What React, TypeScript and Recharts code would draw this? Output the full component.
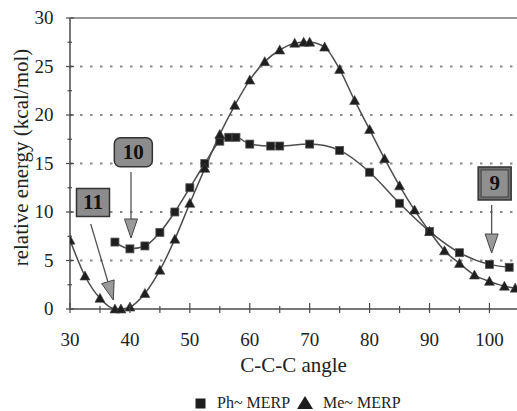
import React from 'react';
import { LineChart, Line, XAxis, YAxis, ReferenceLine, ReferenceDot, Legend } from 'recharts';

// ---- data ----
const phAngles = [37.5, 40, 42.5, 45, 47.5, 50, 52.5, 55, 56.5, 57.7, 60, 63.5, 65, 70, 75, 80, 85, 90, 95, 100, 103.3];
const phEnergy = [6.9, 6.2, 6.5, 7.9, 10.0, 12.5, 15.0, 17.3, 17.7, 17.7, 17.0, 16.8, 16.8, 17.0, 16.35, 14.1, 10.9, 8.0, 5.8, 4.6, 4.3];

const meAngles = [30, 32.5, 35, 37.5, 38.5, 40, 42.5, 45, 47.5, 50, 52.5, 55, 57.5, 60, 62.5, 65, 67.5, 69, 70, 72.5, 75, 77.5, 80, 82.5, 85, 87.5, 90, 92.5, 95, 97.5, 100, 102.5, 104.3];
const meEnergy = [7.1, 3.4, 1.1, 0, 0, 0.2, 1.6, 4.0, 7.2, 10.9, 14.5, 18.0, 21.0, 23.6, 25.5, 26.7, 27.4, 27.5, 27.5, 27.0, 24.7, 21.5, 18.5, 15.5, 12.7, 10.2, 8.0, 6.0, 4.7, 3.5, 2.85, 2.35, 2.15];

const xTicks = [30, 35, 40, 45, 50, 55, 60, 65, 70, 75, 80, 85, 90, 95, 100];
const yTicks = [0, 2.5, 5, 7.5, 10, 12.5, 15, 17.5, 20, 22.5, 25, 27.5, 30];
const gridValues = [5, 10, 15, 20, 25];

const seriesNames = ['Ph~ MERP', 'Me~ MERP'];

// annotation boxes (label, data-position of centre)
const boxLabels = ['11', '10', '9'];
const boxX = [33.84, 40.57, 100.87];
const boxY = [10.98, 16.16, 12.94];
// arrows (start -> tip) in data coordinates
const arrowX1 = [33.46, 40.18, 100.37];
const arrowY1 = [8.76, 14.12, 10.72];
const arrowX2 = [37.23, 40.18, 100.37];
const arrowY2 = [0.93, 7.32, 5.77];

const phData = phAngles.map((x, i) => ({ x, y: phEnergy[i] }));
const meData = meAngles.map((x, i) => ({ x, y: meEnergy[i] }));

const FONT = "'Liberation Serif', 'Times New Roman', Times, serif";
const AXIS_COLOR = '#4a4a4a';
const LINE_COLOR = '#4d4d4d';
const TXT = { fontFamily: FONT } as React.CSSProperties;

const SquareDot = (props: any) => {
  const { cx, cy } = props;
  if (cx == null || cy == null) return null;
  return <rect x={cx - 4} y={cy - 4} width={8} height={8} fill="#1e1e1e" stroke="#555" strokeWidth={0.8} />;
};

const TriangleDot = (props: any) => {
  const { cx, cy } = props;
  if (cx == null || cy == null) return null;
  return (
    <polygon
      points={`${cx},${cy - 5} ${cx + 5},${cy + 4} ${cx - 5},${cy + 4}`}
      fill="#1e1e1e"
      stroke="#444"
      strokeWidth={0.6}
    />
  );
};

const XTick = (props: any) => {
  const { x, y, payload } = props;
  const v = payload.value;
  const major = v % 10 === 0;
  return (
    <g>
      <line x1={x} x2={x} y1={y - (major ? 6 : 3)} y2={y + 4} stroke={AXIS_COLOR} strokeWidth={1.2} />
      {major && (
        <text x={x} y={y + 37} textAnchor="middle" style={TXT} fontSize={19} fill="#222">
          {v}
        </text>
      )}
    </g>
  );
};

const YTick = (props: any) => {
  const { x, y, payload } = props;
  const v = payload.value;
  const major = v % 5 === 0;
  return (
    <g>
      <line x1={x - (major ? 4 : 2.5)} x2={x + (major ? 4 : 2)} y1={y} y2={y} stroke={AXIS_COLOR} strokeWidth={1.2} />
      {major && (
        <text x={x - 16.5} y={y + 6.3} textAnchor="end" style={TXT} fontSize={19} fill="#222">
          {v}
        </text>
      )}
    </g>
  );
};

const YLabel = (props: any) => {
  const vb = props.viewBox || { x: 0, y: 18, width: 70, height: 291 };
  const cx = 21;
  const cy = vb.y + vb.height / 2 - 6;
  return (
    <text
      x={cx}
      y={cy}
      transform={`rotate(-90, ${cx}, ${cy})`}
      textAnchor="middle"
      dominantBaseline="central"
      style={TXT}
      fontSize={21}
      fill="#222"
    >
      relative energy (kcal/mol)
    </text>
  );
};

const makeBox = (label: string, idx: number) => (props: any) => {
  const { cx, cy } = props;
  if (cx == null || cy == null) return null;
  if (idx === 0) {
    const w = 33, h = 28;
    return (
      <g>
        <rect x={cx - w / 2} y={cy - h / 2} width={w} height={h} fill="#8c8c8c" stroke="#333" strokeWidth={1.5} />
        <text x={cx} y={cy + 7} textAnchor="middle" style={TXT} fontWeight="bold" fontSize={21} fill="#111">{label}</text>
      </g>
    );
  }
  if (idx === 1) {
    const w = 38, h = 29;
    return (
      <g>
        <rect x={cx - w / 2} y={cy - h / 2} width={w} height={h} rx={6} ry={6} fill="#8c8c8c" stroke="#333" strokeWidth={1.5} />
        <text x={cx} y={cy + 7} textAnchor="middle" style={TXT} fontWeight="bold" fontSize={21} fill="#111">{label}</text>
      </g>
    );
  }
  const s = 33;
  return (
    <g>
      <rect x={cx - s / 2} y={cy - s / 2} width={s} height={s} fill="#6f6f6f" stroke="#333" strokeWidth={1.5} />
      <rect x={cx - s / 2 + 3} y={cy - s / 2 + 3} width={s - 6} height={s - 6} fill="#8f8f8f" stroke="#444" strokeWidth={1} />
      <text x={cx} y={cy + 7} textAnchor="middle" style={TXT} fontWeight="bold" fontSize={21} fill="#111">{label}</text>
    </g>
  );
};

const ArrowShape = (props: any) => {
  const { x1, y1, x2, y2 } = props;
  if ([x1, y1, x2, y2].some((v) => v == null || isNaN(v))) return null;
  const dx = x2 - x1, dy = y2 - y1;
  const len = Math.sqrt(dx * dx + dy * dy) || 1;
  const ux = dx / len, uy = dy / len;
  const L = 19, W = 6.5;
  const bx = x2 - ux * L, by = y2 - uy * L;
  const px = -uy, py = ux;
  return (
    <g>
      <line x1={x1} y1={y1} x2={bx} y2={by} stroke="#555" strokeWidth={1.3} />
      <polygon
        points={`${x2},${y2} ${bx + px * W},${by + py * W} ${bx - px * W},${by - py * W}`}
        fill="#9a9a9a"
        stroke="#444"
        strokeWidth={1}
      />
    </g>
  );
};

const itemStyle: React.CSSProperties = {
  position: 'absolute',
  top: 0,
  height: 20,
  lineHeight: '20px',
  whiteSpace: 'nowrap',
  fontFamily: FONT,
  fontSize: 16,
  color: '#222',
};

const LegendContent = () => (
  <div style={{ position: 'absolute', left: 0, top: 393, width: 517, height: 20 }}>
    <svg width={11} height={11} style={{ position: 'absolute', left: 195, top: 5 }}>
      <rect x={0.5} y={0.5} width={10} height={10} fill="#1e1e1e" />
    </svg>
    <span style={{ ...itemStyle, left: 217 }}>{seriesNames[0]}</span>
    <svg width={16} height={13} style={{ position: 'absolute', left: 297, top: 3 }}>
      <polygon points="8,0 16,13 0,13" fill="#1e1e1e" />
    </svg>
    <span style={{ ...itemStyle, left: 323 }}>{seriesNames[1]}</span>
  </div>
);

export default function App() {
  return (
    <div style={{ position: 'absolute', left: 0, top: 0, width: 517, height: 411, background: '#fff', fontFamily: FONT }}>
      <LineChart width={517} height={411} margin={{ top: 18, right: 0, bottom: 0, left: 0 }} style={{ fontFamily: FONT }}>
        {gridValues.map((v) => (
          <ReferenceLine key={`g${v}`} y={v} stroke="#8a8a8a" strokeWidth={2} strokeDasharray="2.5 7.5" />
        ))}
        <ReferenceLine y={30} stroke="#777" strokeWidth={1.5} />
        <XAxis
          type="number"
          dataKey="x"
          domain={[30, 104.6]}
          ticks={xTicks}
          interval={0}
          allowDataOverflow
          height={102}
          tickSize={0}
          tickMargin={0}
          tickLine={false}
          tick={<XTick />}
          axisLine={{ stroke: AXIS_COLOR, strokeWidth: 1.5 }}
          label={{
            value: 'C-C-C angle',
            position: 'insideBottom',
            offset: 39,
            style: { fontFamily: FONT, fontSize: 21, fill: '#222' },
          }}
        />
        <YAxis
          type="number"
          dataKey="y"
          domain={[0, 30]}
          ticks={yTicks}
          interval={0}
          width={70}
          tickSize={0}
          tickMargin={0}
          tickLine={false}
          tick={<YTick />}
          axisLine={{ stroke: AXIS_COLOR, strokeWidth: 1.5 }}
          label={<YLabel />}
        />
        {arrowX1.map((x1, i) => (
          <ReferenceLine
            key={`a${i}`}
            segment={[
              { x: x1, y: arrowY1[i] },
              { x: arrowX2[i], y: arrowY2[i] },
            ]}
            ifOverflow="visible"
            shape={ArrowShape}
          />
        ))}
        {boxLabels.map((lab, i) => (
          <ReferenceDot key={`b${i}`} x={boxX[i]} y={boxY[i]} r={1} ifOverflow="visible" shape={makeBox(lab, i)} />
        ))}
        <Line
          data={phData}
          dataKey="y"
          name={seriesNames[0]}
          type="monotone"
          stroke={LINE_COLOR}
          strokeWidth={1.5}
          dot={<SquareDot />}
          activeDot={false}
          isAnimationActive={false}
        />
        <Line
          data={meData}
          dataKey="y"
          name={seriesNames[1]}
          type="monotone"
          stroke={LINE_COLOR}
          strokeWidth={1.5}
          dot={<TriangleDot />}
          activeDot={false}
          isAnimationActive={false}
        />
        <Legend
          content={<LegendContent />}
          wrapperStyle={{ position: 'absolute', left: 0, top: 0, width: 517, height: 0 }}
        />
      </LineChart>
    </div>
  );
}
